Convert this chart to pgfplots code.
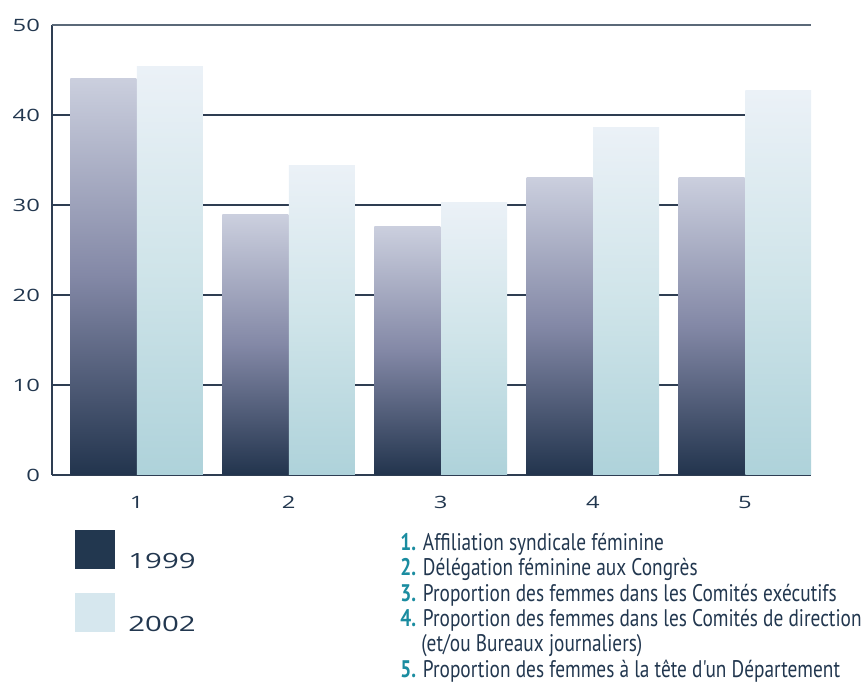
\documentclass[border=0pt]{standalone}
\usepackage{pgfplots}
\pgfplotsset{compat=1.18}
\usepackage{fontspec}
\setmainfont{Open Sans}
\newfontfamily\tickfont[FakeStretch=1.4]{Open Sans}
\newfontfamily\listfont[FakeStretch=0.805]{PT Sans}
\definecolor{cAbot}{HTML}{22344D}
\definecolor{cAmid}{HTML}{8388A6}
\definecolor{cAtop}{HTML}{CBCFDE}
\definecolor{cBbot}{HTML}{AED2DA}
\definecolor{cBmid}{HTML}{CFE4E9}
\definecolor{cBtop}{HTML}{EBF1F7}
\definecolor{cgrid}{HTML}{2E3D52}
\definecolor{ctopline}{HTML}{5B6979}
\definecolor{cleg1}{HTML}{22374F}
\definecolor{cleg2}{HTML}{D6E7EE}
\definecolor{cteal}{HTML}{1A8CA0}
\definecolor{ctext}{HTML}{22374F}
\pgfplotsset{
  b99/.style={ybar, bar width=0.434, bar shift=-0.219, draw=none, bottom color=cAbot, top color=cAtop, middle color=cAmid},
  b02/.style={ybar, bar width=0.434, bar shift=0.219, draw=none, bottom color=cBbot, top color=cBtop, middle color=cBmid},
}
\begin{document}
\begin{tikzpicture}
\path[use as bounding box] (0,0) rectangle (431.5pt,344pt);
\begin{axis}[
  at={(26pt,106.5pt)}, anchor=south west, scale only axis,
  width=379.5pt, height=225pt,
  xmin=0.444, xmax=5.434, ymin=0, ymax=50,
  axis x line*=bottom, axis y line*=left,
  axis line style={color=cgrid, line width=0.75pt},
  xtick={1,2,3,4,5}, ytick={0,10,20,30,40,50},
  ymajorgrids, grid style={color=cgrid, line width=0.75pt},
  major tick length=0pt,
  /pgf/number format/assume math mode=true,
  ticklabel style={font=\tickfont\fontsize{8.5}{9}\selectfont, text=ctext},
  yticklabel style={xshift=-2.5pt},
  xticklabel style={yshift=-7pt},
]
\addplot[b99] coordinates {(1,44.1)};
\addplot[b02] coordinates {(1,45.4)};
\addplot[b99] coordinates {(2,28.9)};
\addplot[b02] coordinates {(2,34.4)};
\addplot[b99] coordinates {(3,27.6)};
\addplot[b02] coordinates {(3,30.3)};
\addplot[b99] coordinates {(4,33.1)};
\addplot[b02] coordinates {(4,38.6)};
\addplot[b99] coordinates {(5,33.1)};
\addplot[b02] coordinates {(5,42.7)};
\draw[ctopline, line width=1pt] (axis cs:0.444,50) -- (axis cs:5.434,50);
\end{axis}
\begin{scope}[x=0.5pt, y=-0.5pt, yshift=344pt]
  \fill[cleg1] (75,530) rectangle (115,569);
  \fill[cleg2] (75,593) rectangle (115,632);
  \node[anchor=base west, inner sep=0pt, text=ctext, font=\tickfont\fontsize{10.5}{12}\selectfont] at (128,569) {1999};
  \node[anchor=base west, inner sep=0pt, text=ctext, font=\tickfont\fontsize{10.5}{12}\selectfont] at (128,632) {2002};
  \begin{scope}[every node/.style={anchor=base west, inner sep=0pt, text=ctext, font=\listfont\fontsize{12}{12}\selectfont}]
    \node at (400,551) {\textcolor{cteal}{\bfseries 1.} Affiliation syndicale féminine};
    \node at (400,576) {\textcolor{cteal}{\bfseries 2.} Délégation féminine aux Congrès};
    \node at (400,602) {\textcolor{cteal}{\bfseries 3.} Proportion des femmes dans les Comités exécutifs};
    \node at (400,627) {\textcolor{cteal}{\bfseries 4.} Proportion des femmes dans les Comités de direction};
    \node at (421,652) {(et/ou Bureaux journaliers)};
    \node at (400,678) {\textcolor{cteal}{\bfseries 5.} Proportion des femmes à la tête d'un Département};
  \end{scope}
\end{scope}
\end{tikzpicture}
\end{document}
